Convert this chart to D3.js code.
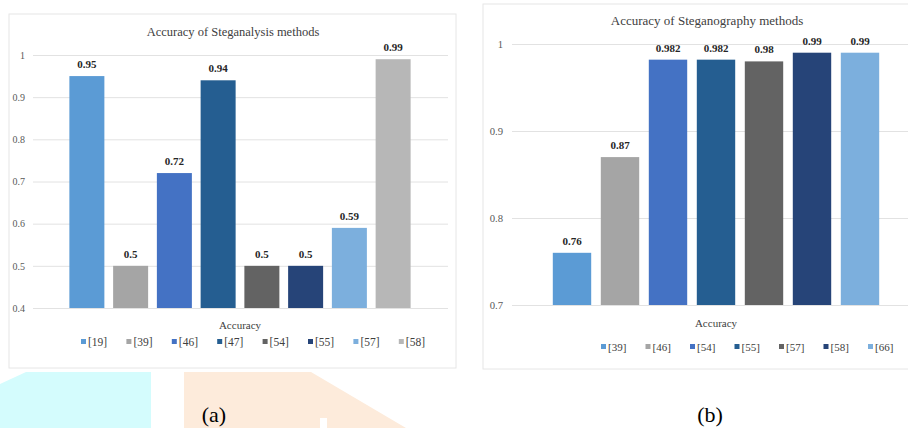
<!DOCTYPE html>
<html>
<head>
<meta charset="utf-8">
<script src="https://cdn.jsdelivr.net/npm/d3@7"></script>
<style>
	body { margin: 0; background: #fff; }
</style>
</head>
<body>
<svg id="fig" width="908" height="428" font-family="Liberation Serif"></svg>
<script>

// (a) steganalysis
var analysisRefs = ['[19]', '[39]', '[46]', '[47]', '[54]', '[55]', '[57]', '[58]']
var analysisAcc = [0.95, 0.5, 0.72, 0.94, 0.5, 0.5, 0.59, 0.99]
var analysisTicks = [0.4, 0.5, 0.6, 0.7, 0.8, 0.9, 1]
var analysisColors = ['#5b9bd5', '#a5a5a5', '#4472c4', '#255e91', '#636363', '#264478', '#7cafdd', '#b7b7b7']

// (b) steganography
var graphyRefs = ['[39]', '[46]', '[54]', '[55]', '[57]', '[58]', '[66]']
var graphyAcc = [0.76, 0.87, 0.982, 0.982, 0.98, 0.99, 0.99]
var graphyTicks = [0.7, 0.8, 0.9, 1]
var graphyColors = ['#5b9bd5', '#a5a5a5', '#4472c4', '#255e91', '#636363', '#264478', '#7cafdd']

var FONT = 'Liberation Serif'
var svg = d3.select('#fig')

// background marks from the page behind the figure
svg.append('path')
	.attr('d', 'M0,384 L26,372 L151,372 L151,428 L0,428 Z')
	.attr('fill', '#d4fcfd')
svg.append('path')
	.attr('d', 'M184,372 L311,372 L406,428 L184,428 Z')
	.attr('fill', '#fdebdb')
svg.append('rect')
	.attr('x', 320).attr('y', 418).attr('width', 7).attr('height', 10)
	.attr('fill', '#fff')

function barchart(opt) {

	var g = svg.append('g').attr('font-family', FONT)

	g.append('rect')
		.attr('x', opt.frame[0])
		.attr('y', opt.frame[1])
		.attr('width', opt.frame[2])
		.attr('height', opt.frame[3])
		.attr('fill', 'none')
		.attr('stroke', '#e6e6e6')

	var y = d3.scaleLinear()
		.domain([opt.ticks[0], opt.ticks[opt.ticks.length - 1]])
		.range(opt.yRange)

	var x = d3.scaleBand()
		.domain(opt.refs)
		.range(opt.xRange)
		.paddingInner(0.2)
		.paddingOuter(0.1)

	var axis = g.append('g')
		.attr('transform', 'translate(' + opt.gridX[0] + ',0)')
		.call(d3.axisLeft(y)
			.tickValues(opt.ticks)
			.tickFormat(d => d3.format('~g')(d))
			.tickSize(-(opt.gridX[1] - opt.gridX[0]))
			.tickPadding(opt.tickPad))
	axis.attr('font-family', FONT).attr('font-size', opt.tickFont)
	axis.select('.domain').remove()
	axis.selectAll('line').attr('stroke', '#e2e2e2')
	axis.selectAll('text').attr('fill', '#595959')

	var data = opt.refs.map((r, i) => ({ ref: r, v: opt.values[i], c: opt.colors[i] }))

	g.selectAll('.bar')
		.data(data)
		.enter().append('rect')
		.attr('class', 'bar')
		.attr('x', d => x(d.ref))
		.attr('y', d => y(d.v))
		.attr('width', x.bandwidth())
		.attr('height', d => y(opt.ticks[0]) - y(d.v))
		.attr('fill', d => d.c)

	g.selectAll('.val')
		.data(data)
		.enter().append('text')
		.attr('class', 'val')
		.attr('x', d => x(d.ref) + x.bandwidth() / 2)
		.attr('y', d => y(d.v) - 8)
		.attr('text-anchor', 'middle')
		.attr('font-size', 11)
		.attr('font-weight', 'bold')
		.attr('fill', '#262626')
		.text(d => d.v)

	g.append('text')
		.attr('x', opt.title[1])
		.attr('y', opt.title[2])
		.attr('text-anchor', 'middle')
		.attr('font-size', opt.title[3])
		.attr('fill', '#404040')
		.text(opt.title[0])

	g.append('text')
		.attr('x', opt.axisTitle[0])
		.attr('y', opt.axisTitle[1])
		.attr('text-anchor', 'middle')
		.attr('font-size', 11)
		.attr('fill', '#404040')
		.text('Accuracy')

	var legend = g.selectAll('.legend')
		.data(data)
		.enter().append('g')
		.attr('class', 'legend')
		.attr('transform', (d, i) => 'translate(' + (opt.legend[0] + i * opt.legend[2]) + ',' + opt.legend[1] + ')')

	legend.append('rect')
		.attr('x', -3)
		.attr('y', -3)
		.attr('width', 5)
		.attr('height', 5)
		.attr('fill', d => d.c)

	legend.append('text')
		.attr('x', 4)
		.attr('dy', '0.35em')
		.attr('font-size', opt.legendFont)
		.attr('fill', '#404040')
		.text(d => d.ref)

	g.append('text')
		.attr('x', opt.panel[1])
		.attr('y', 422)
		.attr('text-anchor', 'middle')
		.attr('font-size', 22)
		.attr('fill', '#000')
		.text(opt.panel[0])
}

barchart({
	refs: analysisRefs, values: analysisAcc, ticks: analysisTicks, colors: analysisColors,
	frame: [9, 14, 447, 354],
	yRange: [308, 55], xRange: [65, 415], gridX: [33, 448], tickPad: 8, tickFont: 10,
	title: ['Accuracy of Steganalysis methods', 233, 36, 12.5],
	axisTitle: [240, 329],
	legend: [84, 342, 45.4], legendFont: 11.5,
	panel: ['(a)', 214]
})

barchart({
	refs: graphyRefs, values: graphyAcc, ticks: graphyTicks, colors: graphyColors,
	frame: [483, 4, 440, 365],
	yRange: [305, 44], xRange: [548, 884], gridX: [512, 912], tickPad: 9, tickFont: 10.7,
	title: ['Accuracy of Steganography methods', 707, 25, 13],
	axisTitle: [716, 327],
	legend: [604, 347, 44.5], legendFont: 11,
	panel: ['(b)', 710]
})

</script>
</body>
</html>
